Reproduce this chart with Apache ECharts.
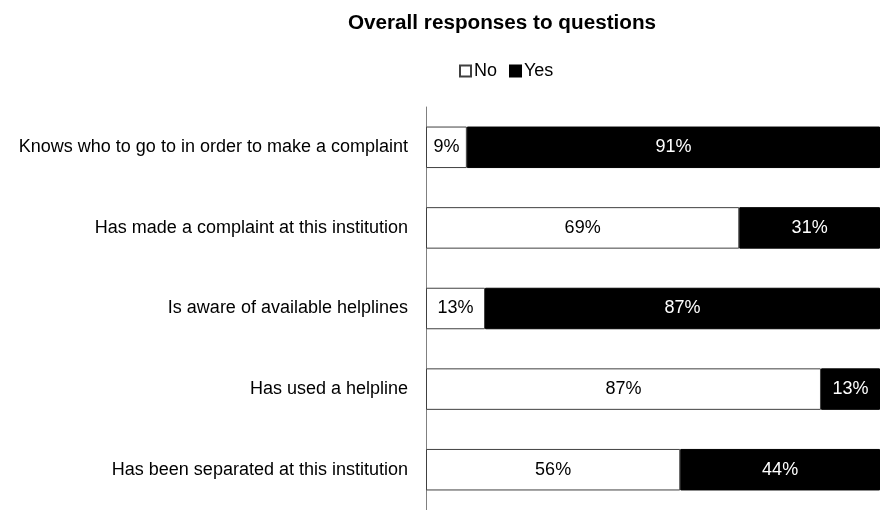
<!DOCTYPE html>
<html><head><meta charset="utf-8">
<script src="https://cdn.jsdelivr.net/npm/echarts@6/dist/echarts.min.js"></script>
<style>html,body{margin:0;padding:0;background:#fff}#c{width:880px;height:510px}</style>
</head><body><div id="c"></div>
<script>
const categories = [
  "Knows who to go to in order to make a complaint",
  "Has made a complaint at this institution",
  "Is aware of available helplines",
  "Has used a helpline",
  "Has been separated at this institution"
];
const noValues = [9, 69, 13, 87, 56];
const yesValues = [91, 31, 87, 13, 44];
const chart = echarts.init(document.getElementById('c'));
const font = '"Liberation Sans", Arial, sans-serif';
chart.setOption({
  animation: false,
  textStyle: {fontFamily: font},
  title: {
    text: 'Overall responses to questions', left: 497, textAlign: 'center', top: 8,
    textStyle: {fontSize: 20.7, fontWeight: 'bold', color: '#000', fontFamily: font}
  },
  legend: {
    data: ['No', 'Yes'], left: 454, top: 57,
    itemWidth: 11, itemHeight: 11, itemGap: 12, icon: 'rect',
    textStyle: {fontSize: 18, color: '#000', fontFamily: font, padding: [0, 0, 0, -2]}
  },
  grid: {left: 426, right: -8, top: 107, bottom: -5, containLabel: false},
  xAxis: {
    type: 'value', min: 0, max: 100, show: false
  },
  yAxis: {
    type: 'category', data: categories, inverse: true,
    axisLine: {show: true, lineStyle: {color: '#808080', width: 1}},
    axisTick: {show: false},
    axisLabel: {fontSize: 18, color: '#000', margin: 18, fontFamily: font}
  },
  series: [
    {
      name: 'No', type: 'bar', stack: 't', data: noValues, barWidth: '51.5%',
      itemStyle: {color: '#fff', borderColor: '#404040', borderWidth: 1},
      label: {show: true, position: 'inside', formatter: '{c}%', fontSize: 18, color: '#000', fontFamily: font}
    },
    {
      name: 'Yes', type: 'bar', stack: 't', data: yesValues, barWidth: '51.5%',
      itemStyle: {color: '#000', borderColor: '#000', borderWidth: 1},
      label: {show: true, position: 'inside', formatter: '{c}%', fontSize: 18, color: '#fff', fontFamily: font}
    }
  ]
});
</script></body></html>
